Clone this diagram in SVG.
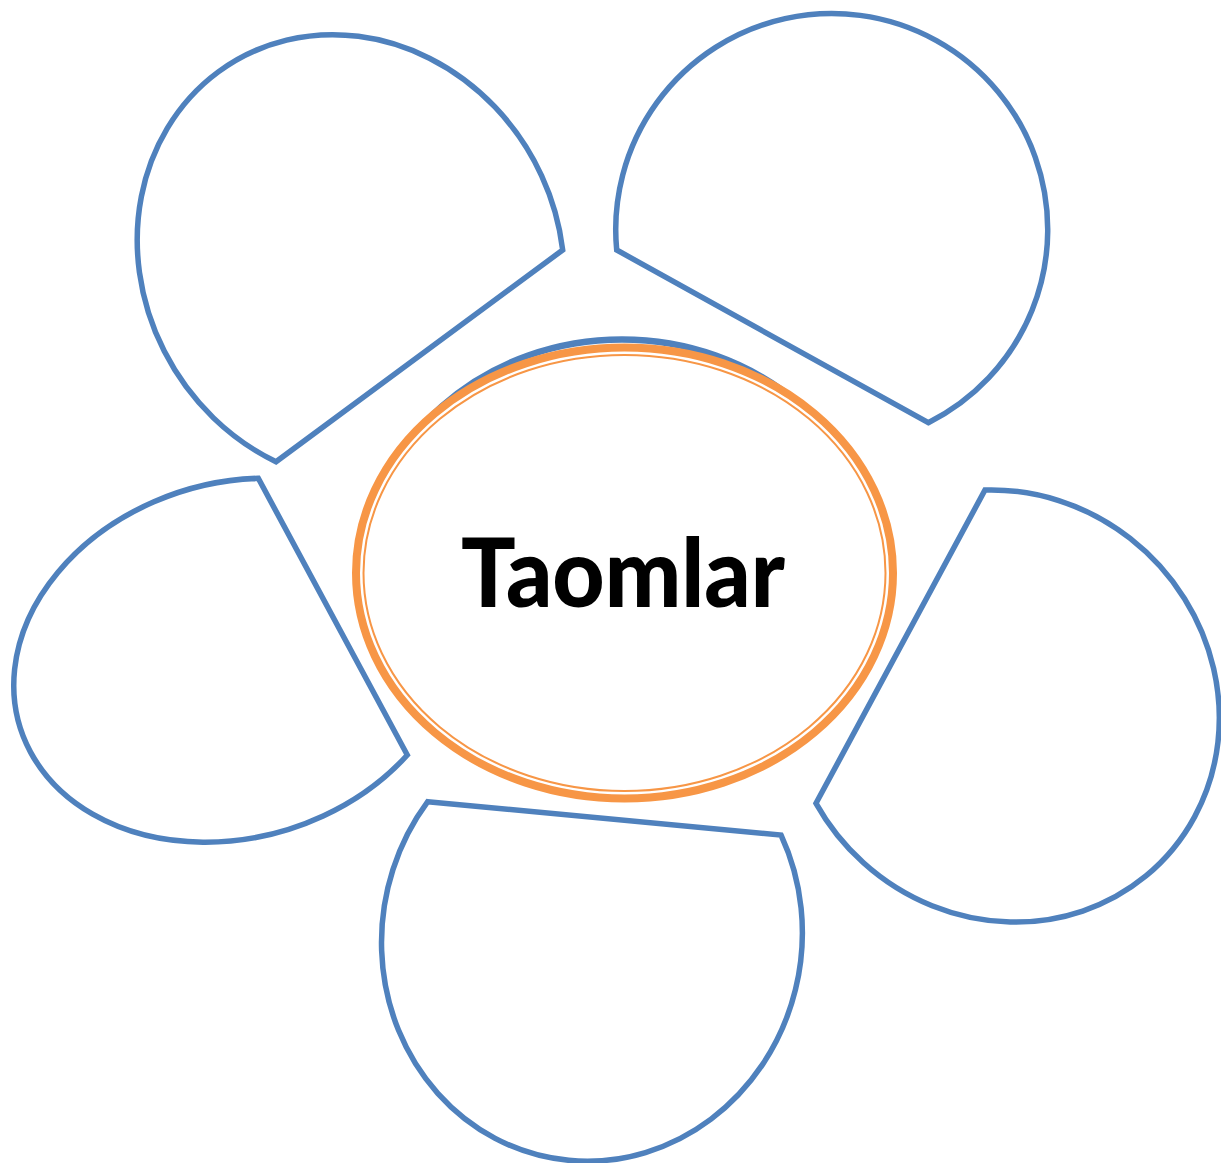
<svg xmlns="http://www.w3.org/2000/svg" width="1221" height="1163" viewBox="0 0 1221 1163">
  <style>
    .petal { fill: #ffffff; stroke: #4F81BD; stroke-width: 5.5; stroke-linejoin: miter; }
    .hub-back { fill: #ffffff; stroke: #4F81BD; stroke-width: 6.5; }
    .hub-thick { fill: #ffffff; stroke: #F79646; stroke-width: 8; }
    .hub-thin { fill: none; stroke: #F79646; stroke-width: 2; }
    .label { font-family: Lato, "Open Sans", "Liberation Sans", sans-serif; font-weight: 900; font-size: 96px; fill: #000000; }
  </style>
  <rect x="0" y="0" width="1221" height="1163" fill="#ffffff"/>
  <g id="connectors"></g>
  <g id="petal-top-left">
    <path class="petal" d="M 562.7 250 L 276 461.7 A 229.5 208 60 1 1 562.7 250 Z"/>
  </g>
  <g id="petal-top-right">
    <path class="petal" d="M 928.3 422.7 L 616.7 250 A 216 216 0 1 1 928.3 422.7 Z"/>
  </g>
  <g id="petal-right">
    <path class="petal" d="M 816 803.3 L 985 490 A 222 210 45 1 1 816 803.3 Z"/>
  </g>
  <g id="petal-bottom">
    <path class="petal" d="M 427.7 801.7 L 781 835 A 210 224 10 1 1 427.7 801.7 Z"/>
  </g>
  <g id="petal-left">
    <path class="petal" d="M 258.3 478.3 L 407.3 755 A 225.7 177.2 -17.3 1 1 258.3 478.3 Z"/>
  </g>
  <g id="center">
    <ellipse class="hub-back" cx="622" cy="568.25" rx="255" ry="228.75"/>
    <ellipse class="hub-thick" cx="624.5" cy="573" rx="268.5" ry="225.5"/>
    <ellipse class="hub-thin" cx="624.5" cy="573" rx="261" ry="218"/>
    <text class="label" x="623" y="607" text-anchor="middle" textLength="324" lengthAdjust="spacingAndGlyphs">Taomlar</text>
  </g>
</svg>
